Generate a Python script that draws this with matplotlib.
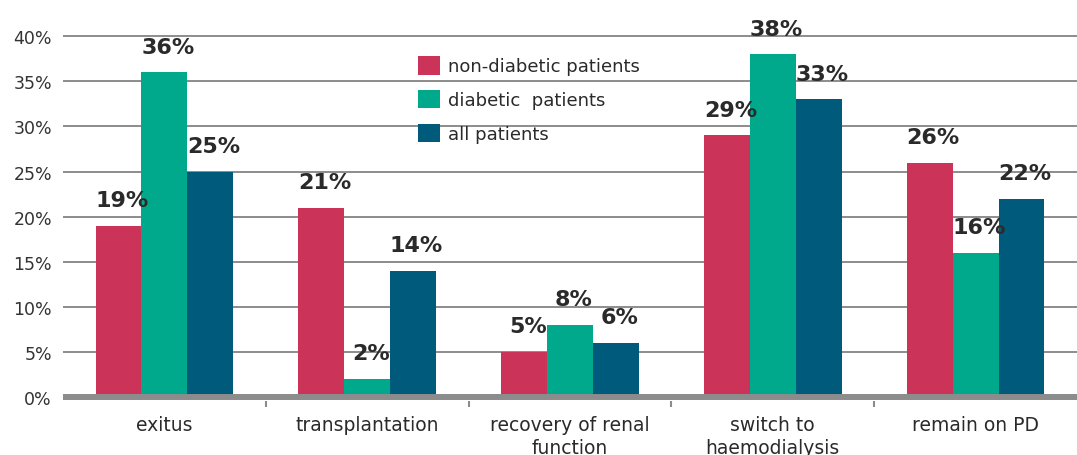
import matplotlib
matplotlib.use("Agg")
import matplotlib.pyplot as plt
import numpy as np
from matplotlib.ticker import FixedLocator, FuncFormatter

categories = ["exitus", "transplantation", "recovery of renal\nfunction",
              "switch to\nhaemodialysis", "remain on PD"]
series_names = ["non-diabetic patients", "diabetic  patients", "all patients"]
non_diabetic = [19, 21, 5, 29, 26]
diabetic = [36, 2, 8, 38, 16]
all_patients = [25, 14, 6, 33, 22]
colors = ["#CC3359", "#00A88C", "#005A7B"]

GRID = "#8C8C8C"
TEXT = "#2A2A2A"

fig = plt.figure(figsize=(10.77, 4.56), dpi=100)
ax = fig.add_axes([63 / 1077, 0.1180, 1 - 63 / 1077, 0.8197])
ax.set_xlim(-0.5, len(categories) - 0.5)
ax.set_ylim(-0.5, 41)

x = np.arange(len(categories))
width = 0.226
for i, (vals, name) in enumerate(zip([non_diabetic, diabetic, all_patients], series_names)):
    pos = x + (i - 1) * width
    ax.bar(pos, vals, width=width, color=colors[i], label=name, zorder=2)
    for px, v in zip(pos, vals):
        ax.annotate(f"{v}%", (px, v), xytext=(2.5, 11), textcoords="offset points",
                    ha="center", va="bottom", fontsize=16, fontweight="bold",
                    color=TEXT, annotation_clip=False, zorder=4)

# gridlines and base line
for y in range(5, 45, 5):
    ax.axhline(y, color=GRID, lw=1.4, zorder=1)
ax.axhline(0, color=GRID, lw=4.3, zorder=3)

for s in ax.spines.values():
    s.set_visible(False)

ax.yaxis.set_major_locator(FixedLocator(range(0, 45, 5)))
ax.yaxis.set_major_formatter(FuncFormatter(lambda v, _: f"{int(v)}%"))
ax.tick_params(axis="y", length=0, pad=8, labelsize=12.5, labelcolor="#333333")

ax.set_xticks(x)
ax.set_xticklabels(categories, fontsize=13.5, color=TEXT, linespacing=1.25, va="top")
ax.set_xticks(x[:-1] + 0.5, minor=True)
ax.tick_params(axis="x", which="major", length=0, pad=10)
ax.tick_params(axis="x", which="minor", length=4, width=1.5, color=GRID)

fig.legend(loc="upper left", bbox_to_anchor=(418 / 1077, 1 - 57 / 456),
           frameon=False, fontsize=13, handlelength=1.2, handleheight=1.2,
           handletextpad=0.45, labelspacing=0.8, borderpad=0, borderaxespad=0,
           labelcolor=TEXT)

fig.savefig("out.png", dpi=100)
